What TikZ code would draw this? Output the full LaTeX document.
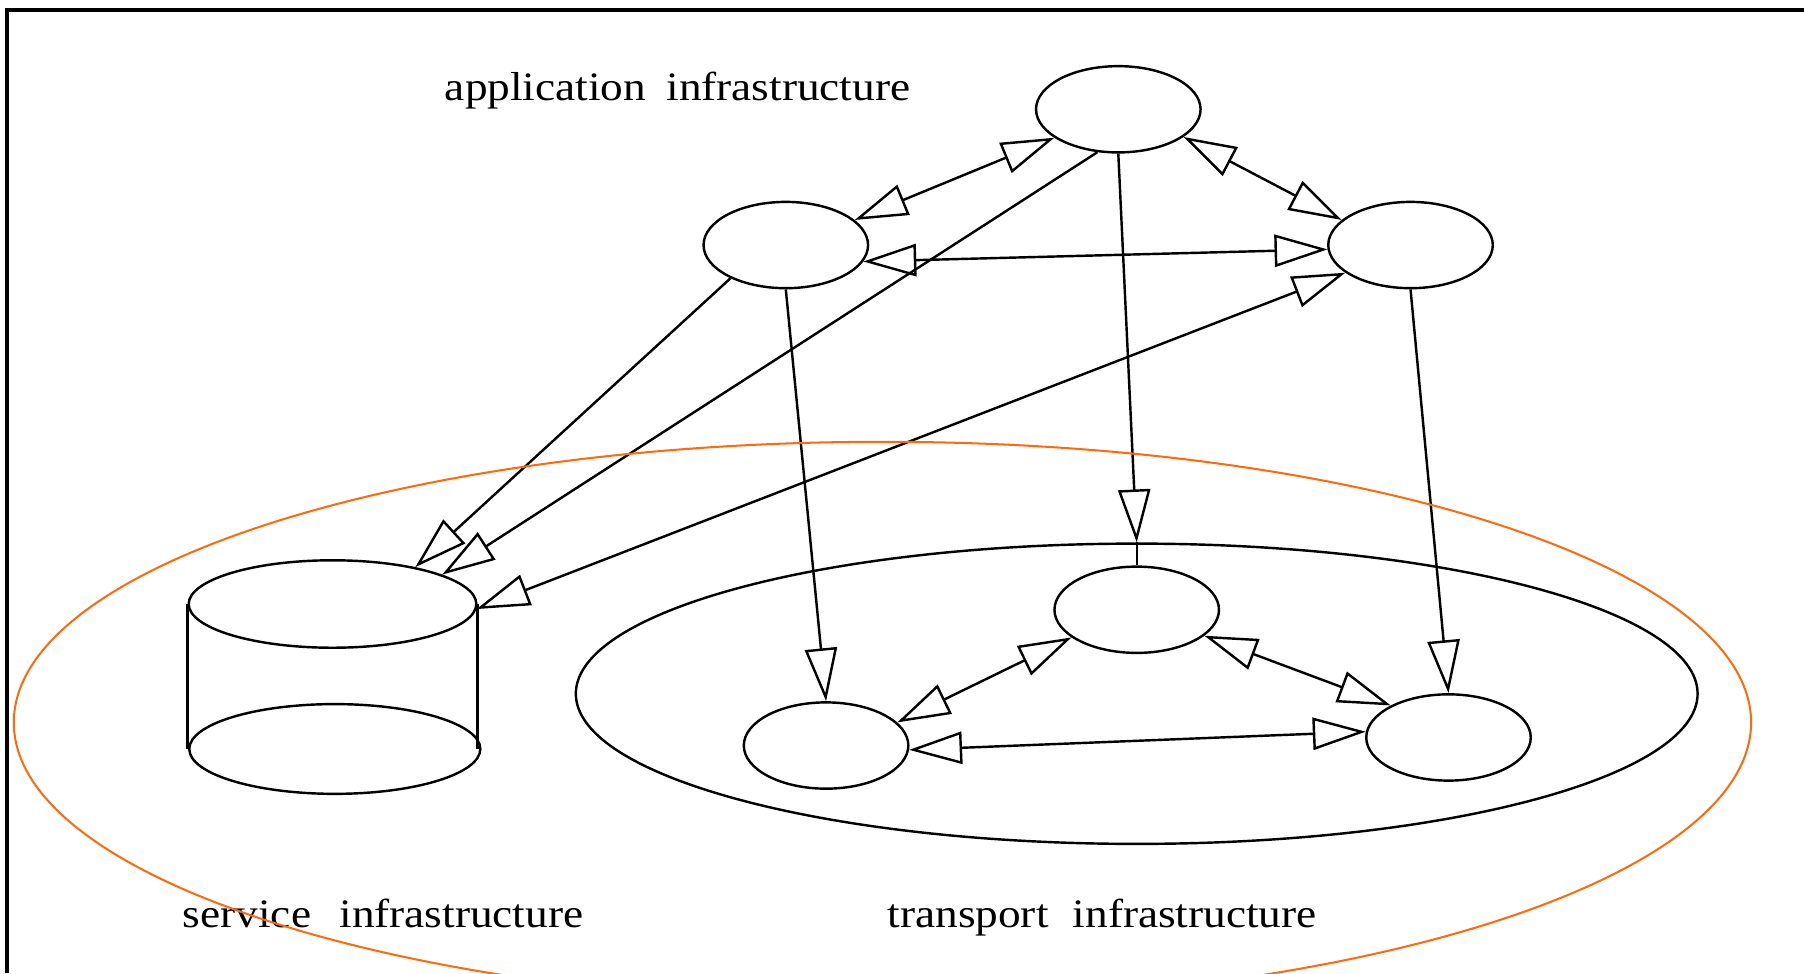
\documentclass[tikz,border=0pt]{standalone}
\usepackage{fontspec}
\setmainfont{Liberation Serif}
\newfontfamily\infrafont[FakeStretch=1.12]{Liberation Serif}
\usetikzlibrary{arrows.meta,shapes.geometric}
\definecolor{borde}{RGB}{255,106,10}

\tikzset{
  nodo/.style={draw, ellipse, line width=0.6pt, inner sep=0pt,
    minimum width=1.43cm, minimum height=0.75cm},
  infratext/.style={anchor=base, font=\infrafont\fontsize{10}{12}\selectfont}
}

\begin{document}
\begin{tikzpicture}[>={Triangle[open,length=4.6mm,width=2.8mm]}, line width=0.6pt]

\useasboundingbox (0,0) rectangle (15.68,8.46);
\clip (0,0) rectangle (15.68,8.46);

% =============================================
% Marco
% =============================================
\draw[line width=1pt] (0.06,0) -- (0.06,8.37) -- (15.68,8.37);

% =============================================
% Infraestructura de aplicacion
% =============================================
\node[infratext] (aplTxt) at (5.89,7.59) {application\hspace{0.5em}infrastructure};

\node[nodo] (T) at (9.72,7.51) {};
\node[nodo] (L) at (6.83,6.33) {};
\node[nodo] (R) at (12.26,6.33) {};

\draw[<->] (T.204) -- (L.20);
\draw[<->] (T.337) -- (R.160);
\draw[<->] (L.-12) -- (R.183);

% =============================================
% Infraestructura de servicio (cilindro)
% =============================================
\node[nodo, minimum width=2.5cm, minimum height=0.76cm] (svcTop) at (2.89,3.21) {};
\node[nodo, minimum width=2.53cm, minimum height=0.78cm] (svcBot) at (2.91,1.95) {};
\draw (svcTop.west) -- (svcTop.west |- svcBot.west);
\draw (svcTop.east) -- (svcTop.east |- svcBot.east);

\node[infratext] (svcTxt) at (3.33,0.40) {service\hspace{0.7em}infrastructure};

% =============================================
% Infraestructura de transporte
% =============================================
\node[nodo, minimum width=9.75cm, minimum height=2.61cm] (ring) at (9.88,2.43) {};

\node[nodo] (TT) at (9.88,3.16) {};
\node[nodo] (BL) at (7.18,1.98) {};
\node[nodo] (BR) at (12.59,2.05) {};

\draw[<->] (TT.203) -- (BL.18);
\draw[<->] (TT.339) -- (BR.151);
\draw[<->] (BL.-3) -- (BR.176);

\node[infratext] (trpTxt) at (9.58,0.40) {transport\hspace{0.6em}infrastructure};

% =============================================
% Flechas entre capas
% =============================================
\draw[->] (L.211) -- (svcTop.24);
\draw[->] (T.244) -- (svcTop.15);
\draw[<->] (R.203) -- (svcTop.-2);

\draw[->] (T.south) -- (ring.north);
\draw (ring.north) -- (TT.north);
\draw[->] (L.south) -- (BL.north);
\draw[->] (R.south) -- (BR.north);

% contorno naranja
\draw[borde, line width=0.5pt] (7.67,2.18) ellipse (7.55 and 2.44);

\end{tikzpicture}
\end{document}
